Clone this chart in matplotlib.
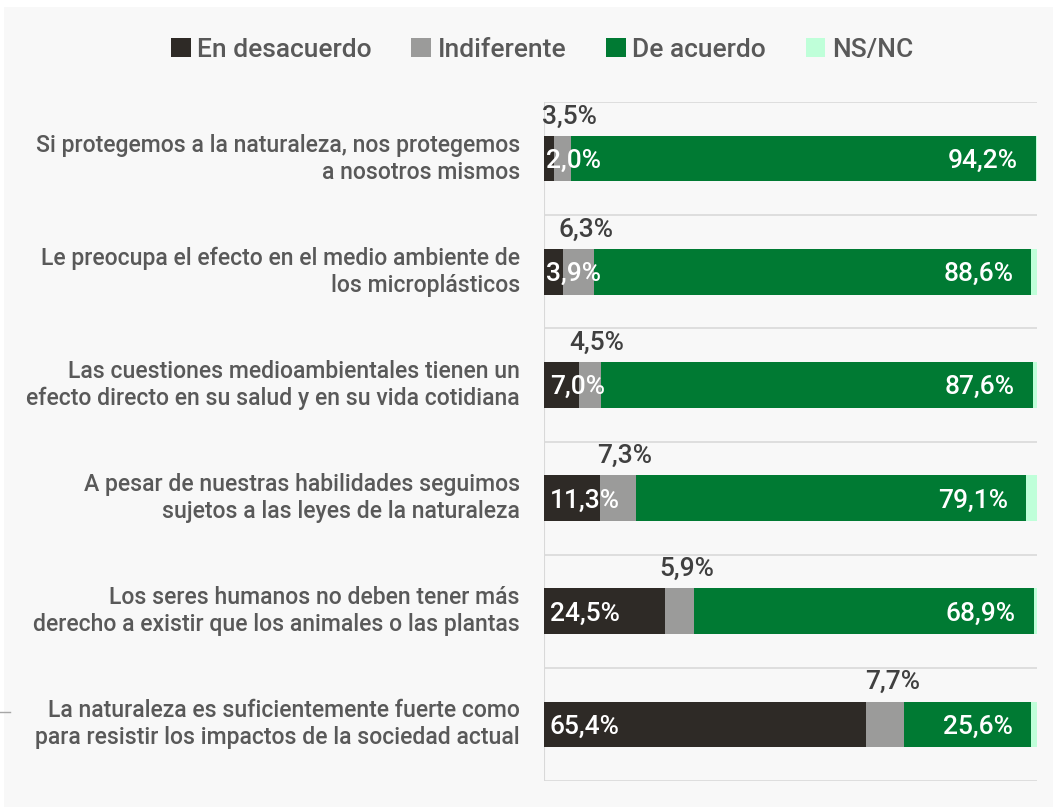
import matplotlib
matplotlib.use("Agg")
import matplotlib.pyplot as plt
from matplotlib.patches import Rectangle
from matplotlib.lines import Line2D
import numpy as np

categories = [
    "Si protegemos a la naturaleza, nos protegemos\na nosotros mismos",
    "Le preocupa el efecto en el medio ambiente de\nlos microplásticos",
    "Las cuestiones medioambientales tienen un\nefecto directo en su salud y en su vida cotidiana",
    "A pesar de nuestras habilidades seguimos\nsujetos a las leyes de la naturaleza",
    "Los seres humanos no deben tener más\nderecho a existir que los animales o las plantas",
    "La naturaleza es suficientemente fuerte como\npara resistir los impactos de la sociedad actual",
]
series_names = ["En desacuerdo", "Indiferente", "De acuerdo", "NS/NC"]
en_desacuerdo = [2.0, 3.9, 7.0, 11.3, 24.5, 65.4]
indiferente = [3.5, 6.3, 4.5, 7.3, 5.9, 7.7]
de_acuerdo = [94.2, 88.6, 87.6, 79.1, 68.9, 25.6]
ns_nc = [0.3, 1.2, 0.9, 2.3, 0.7, 1.3]

colors = ["#2e2a26", "#9b9b9a", "#007a33", "#bfffd9"]
FONT = "Roboto"
plt.rcParams["font.family"] = [FONT, "DejaVu Sans"]

W, H = 1053, 807
fig = plt.figure(figsize=(W / 100, H / 100), dpi=100, facecolor="white")
# light panel background
fig.add_artist(Rectangle((4 / W, 0), 1 - 4 / W, 1 - 7 / H, transform=fig.transFigure,
                         facecolor="#f8f8f8", edgecolor="none", zorder=0))
fig.add_artist(Line2D([0, 10 / W], [1 - 712 / H, 1 - 712 / H], transform=fig.transFigure,
                      color="#a6a6a6", lw=1))

left, right, top, bottom = 544 / W, 1037 / W, 102 / H, 781 / H
ax = fig.add_axes([left, 1 - bottom, right - left, bottom - top])
ax.set_facecolor("none")

n = len(categories)
y = np.arange(n)
bh = 0.405
data = [en_desacuerdo, indiferente, de_acuerdo, ns_nc]
lefts = np.zeros(n)
for vals, c, name in zip(data, colors, series_names):
    ax.barh(y, vals, left=lefts, height=bh, color=c, edgecolor="none", label=name, zorder=3)
    lefts = lefts + np.array(vals)

ax.set_xlim(0, 100)
ax.set_ylim(n - 0.5, -0.5)

# gridlines at category boundaries
for b in np.arange(-0.5, n, 1.0):
    ax.axhline(b, color="#d9d9d9", lw=1.2, zorder=1)
ax.axvline(0, color="#d9d9d9", lw=1.5, zorder=2)

for s in ax.spines.values():
    s.set_visible(False)
ax.set_xticks([])
ax.set_yticks([])

fs_cat = 16.6
fs_val = 19
wt = "medium"
for i in range(n):
    d, g, a = en_desacuerdo[i], indiferente[i], de_acuerdo[i]
    # category labels
    ax.text(-4.9, i, categories[i], ha="right", va="center", fontsize=fs_cat,
            color="#595959", linespacing=1.22, fontweight=wt)
    # dark segment label
    ax.text(0.4 if d < 5 else 1.2, i + 0.02, f"{d:.1f}%".replace(".", ","), ha="left",
            va="center", fontsize=fs_val, color="white", zorder=5, fontweight=wt)
    # indiferente label above bar
    ax.text(d + g / 2 + 1.5, i - bh / 2 - 0.17, f"{g:.1f}%".replace(".", ","),
            ha="center", va="center", fontsize=fs_val, color="#404040", zorder=5,
            fontweight=wt)
    # de acuerdo label inside end
    ax.text(d + g + a - 3.6, i + 0.02, f"{a:.1f}%".replace(".", ","), ha="right",
            va="center", fontsize=fs_val, color="white", zorder=5, fontweight=wt)

handles = [Rectangle((0, 0), 1, 1, facecolor=c) for c in colors]
fig.legend(handles, series_names, loc="center", bbox_to_anchor=(542 / W, 1 - 50 / H),
           ncol=4, frameon=False, prop={"size": 19, "weight": wt}, labelcolor="#595959",
           handlelength=0.75, handleheight=0.75, handletextpad=0.25, columnspacing=1.5)

fig.savefig("out.png", dpi=100, facecolor="white")
